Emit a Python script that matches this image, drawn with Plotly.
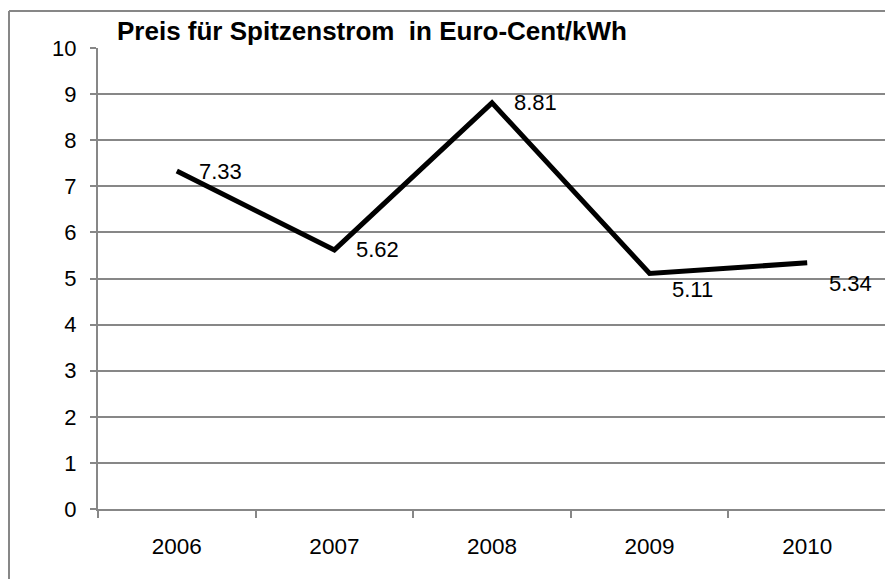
import plotly.graph_objects as go

years = ["2006", "2007", "2008", "2009", "2010"]
prices = [7.33, 5.62, 8.81, 5.11, 5.34]
label_texts = ["7.33", "5.62", "8.81", "5.11", "5.34"]
label_yshift = [0, 0, 0, -16, -21]
y_ticks = list(range(0, 11))

# the page places the figure 8px from the top-left corner
OFF = 8
W, H = 893 - OFF, 579 - OFF
L, R, T, B = 98 - OFF, 7, 48 - OFF, 70
GRAY = "#878787"
FONT = "Liberation Sans, Arial, sans-serif"

fig = go.Figure()
fig.add_trace(go.Scatter(
    x=years, y=prices, mode="lines",
    line=dict(color="black", width=5),
    hoverinfo="skip", showlegend=False,
))

for i, (yv, t, ys) in enumerate(zip(prices, label_texts, label_yshift)):
    fig.add_annotation(
        x=i, y=yv, text=t, showarrow=False, xanchor="left", yanchor="middle",
        xshift=20, yshift=ys, font=dict(family=FONT, size=22, color="black"),
    )

# outer chart border (top and left visible)
pw, ph = W - L - R, H - T - B
bx = (9 - OFF - L) / pw
by = (H - B - (11 - OFF)) / ph
fig.add_shape(type="line", xref="paper", yref="paper", x0=bx, x1=(W - L + 5) / pw, y0=by, y1=by,
              line=dict(color=GRAY, width=2))
fig.add_shape(type="line", xref="paper", yref="paper", x0=bx, x1=bx, y0=by, y1=-(B + 5) / ph,
              line=dict(color=GRAY, width=2))

fig.update_layout(
    width=W, height=H,
    margin=dict(l=L, r=R, t=T, b=B),
    paper_bgcolor="white", plot_bgcolor="white",
    title=dict(
        text="<b>Preis für Spitzenstrom  in Euro-Cent/kWh</b>",
        xref="container", yref="container", x=(117 - OFF) / W, xanchor="left",
        y=1 - (31 - OFF) / H, yanchor="middle",
        font=dict(family=FONT, size=26, color="black"),
    ),
    xaxis=dict(
        type="category", tickson="boundaries", ticks="outside", ticklen=7,
        tickcolor=GRAY, tickwidth=2, showline=True, linecolor=GRAY, linewidth=2,
        showgrid=False, tickfont=dict(family=FONT, size=22.5, color="black"),
        ticklabelstandoff=16, range=[-0.5, 4.5],
    ),
    yaxis=dict(
        range=[0, 10], tickvals=y_ticks, ticks="outside", ticklen=6,
        tickcolor=GRAY, tickwidth=2, showline=True, linecolor=GRAY, linewidth=2,
        showgrid=True, gridcolor=GRAY, gridwidth=1.5, zeroline=False,
        tickfont=dict(family=FONT, size=22, color="black"),
        ticklabelstandoff=9,
    ),
)

fig.write_html("out.html")
